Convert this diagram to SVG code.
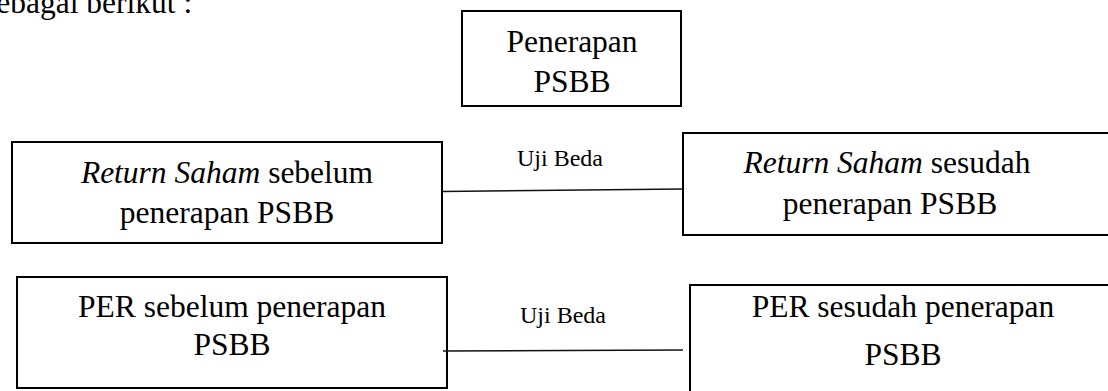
<svg xmlns="http://www.w3.org/2000/svg" width="1108" height="391" viewBox="0 0 1108 391">
<style>
.box{fill:#fff;stroke:#000;stroke-width:2}
.conn{stroke:#111;stroke-width:1.5;fill:none}
</style>
<rect width="1108" height="391" fill="#fff"/>
<g font-family="Liberation Serif, Times New Roman, serif" fill="#000">
<text x="-16" y="13" font-size="31.5">sebagai berikut :</text>
<g id="node-psbb" font-size="31.5" text-anchor="middle">
<rect class="box" x="462" y="11" width="219" height="95"/>
<text x="572" y="52">Penerapan</text>
<text x="572" y="92">PSBB</text>
</g>
<g id="node-return-before" font-size="31.5" text-anchor="middle">
<rect class="box" x="12" y="142" width="430" height="101"/>
<text x="227" y="183"><tspan font-style="italic">Return Saham</tspan> sebelum</text>
<text x="227" y="223">penerapan PSBB</text>
</g>
<g id="node-return-after" font-size="31.5" text-anchor="middle">
<rect class="box" x="683" y="133" width="430" height="102"/>
<text x="887" y="173"><tspan font-style="italic">Return Saham</tspan> sesudah</text>
<text x="890" y="214">penerapan PSBB</text>
</g>
<g id="node-per-before" font-size="31.5" text-anchor="middle">
<rect class="box" x="17" y="277" width="430" height="111"/>
<text x="232" y="317">PER sebelum penerapan</text>
<text x="232" y="355">PSBB</text>
</g>
<g id="node-per-after" font-size="31.5" text-anchor="middle">
<rect class="box" x="690" y="285" width="425" height="120"/>
<text x="903" y="317">PER sesudah penerapan</text>
<text x="903" y="365">PSBB</text>
</g>
<g id="connectors" font-size="24" text-anchor="middle">
<line class="conn" x1="442" y1="191.5" x2="683" y2="189"/>
<text x="560" y="166">Uji Beda</text>
<line class="conn" x1="443" y1="351" x2="683" y2="350"/>
<text x="563" y="323">Uji Beda</text>
</g>
</g>
</svg>
